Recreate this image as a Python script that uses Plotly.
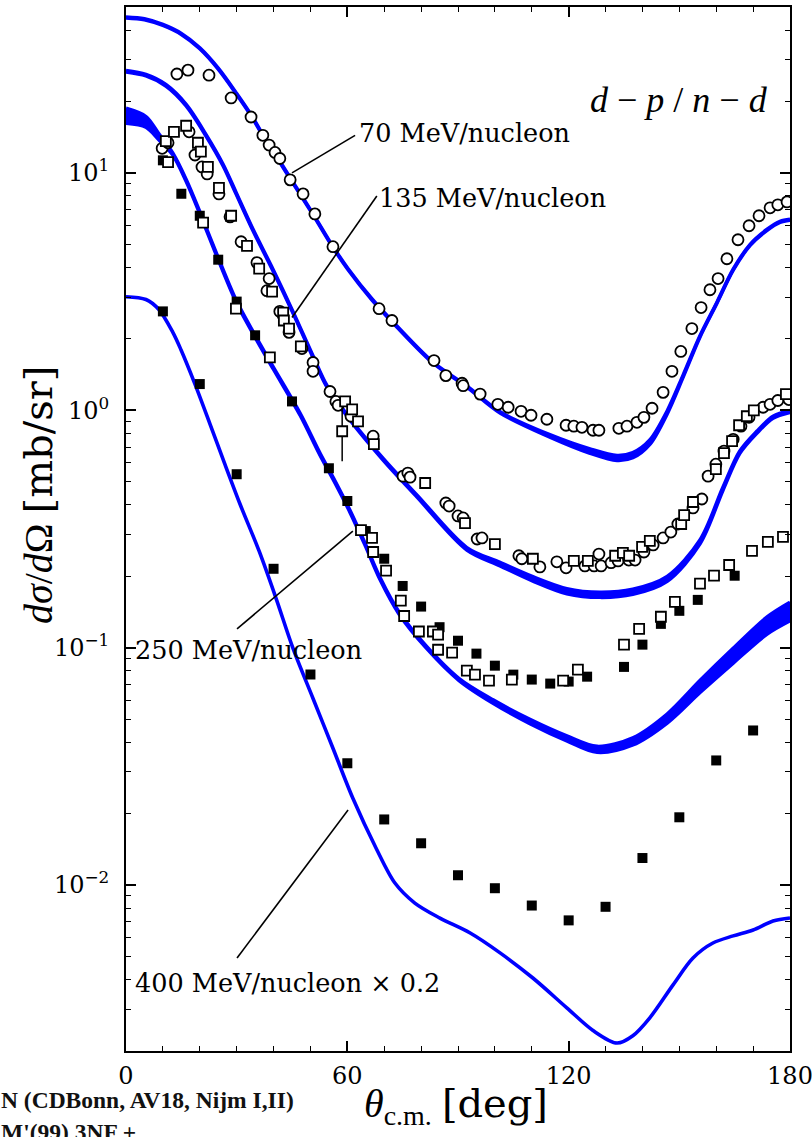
import numpy as np
import plotly.graph_objects as go

# ---------------- theory bands: angle (deg), central value (mb/sr), band width (decades)
th70 = [0, 5, 10, 15, 20, 25, 30, 34, 37, 40.4, 44.5, 48, 51.2, 56, 60.1, 66.7, 73.5, 83.2,
        92.4, 101.4, 114.9, 125.8, 133.1, 137.4, 142, 146.7, 151, 155.6, 160.2, 164.6,
        169.2, 173.8, 177.3, 180]
cs70 = [45.2, 44.4, 42.0, 38.5, 33.5, 27.5, 21.5, 17.4, 14.5, 12.0, 9.5, 7.8, 6.5, 4.9, 3.95,
        2.93, 2.25, 1.59, 1.26, 0.98, 0.78, 0.673, 0.63, 0.647, 0.734, 0.98, 1.39, 2.05, 2.84,
        3.91, 4.98, 5.76, 6.22, 6.35]
bw70 = [0.004, 0.004, 0.004, 0.004, 0.004, 0.004, 0.004, 0.004, 0.004, 0.004, 0.004, 0.004,
        0.004, 0.004, 0.004, 0.004, 0.004, 0.004, 0.004, 0.005, 0.010, 0.018, 0.021, 0.021,
        0.018, 0.012, 0.008, 0.005, 0.004, 0.004, 0.004, 0.004, 0.004, 0.004]

th135 = [0, 5.4, 10.8, 16.3, 21.7, 26.3, 29.8, 34.4, 39.8, 45.3, 50.7, 54.5, 60.7, 69.7, 78.9,
         92.4, 101.4, 110.3, 119.5, 128.5, 137.4, 146.7, 155.6, 161.8, 166.4, 171, 175.4, 180]
cs135 = [26.8, 25.8, 23.4, 19.3, 14.4, 10.8, 8.24, 5.76, 3.91, 2.58, 1.68, 1.26, 0.917, 0.622,
         0.435, 0.261, 0.225, 0.195, 0.173, 0.167, 0.172, 0.195, 0.279, 0.466, 0.666, 0.808,
         0.935, 0.99]
bw135 = [0.006, 0.006, 0.006, 0.006, 0.006, 0.006, 0.006, 0.006, 0.006, 0.006, 0.006, 0.006,
         0.006, 0.007, 0.008, 0.010, 0.014, 0.018, 0.021, 0.021, 0.021, 0.020, 0.016, 0.012,
         0.010, 0.008, 0.008, 0.008]

th250 = [0, 5.4, 8.9, 12.7, 16.3, 20, 25, 30, 35, 40, 47.2, 52.6, 56.7, 60.7, 64.8, 68.9, 74,
         81.3, 90.3, 99.5, 109.5, 119.5, 127.7, 137.4, 146.7, 155.6, 164.6, 173.8, 180]
cs250 = [17.4, 16.4, 14.2, 12.0, 9.3, 6.8, 4.35, 2.85, 2.05, 1.5, 0.962, 0.653, 0.498, 0.376,
         0.273, 0.195, 0.140, 0.101, 0.0734, 0.0593, 0.0489, 0.0415, 0.0373, 0.0403, 0.0503,
         0.0686, 0.0925, 0.124, 0.142]
bw250 = [0.063, 0.045, 0.025, 0.008, 0.008, 0.008, 0.008, 0.008, 0.008, 0.008, 0.008, 0.008,
         0.008, 0.008, 0.008, 0.008, 0.008, 0.008, 0.008, 0.014, 0.018, 0.021, 0.025, 0.030,
         0.038, 0.050, 0.062, 0.072, 0.078]

# 400 MeV/nucleon prediction, scaled by 0.2
th400 = [0, 5.4, 8.9, 12.7, 14.9, 18.7, 22.8, 26.8, 30.9, 36.1, 40.7, 45.3, 50.7, 56.1, 61.5,
         67.8, 72.9, 78.3, 85.1, 93.3, 101.4, 110.3, 119.5, 126.6, 133.1, 137.4, 142, 148.3,
         153.7, 159.1, 164.6, 170, 175.4, 180]
cs400 = [3.01, 2.93, 2.66, 2.13, 1.80, 1.29, 0.873, 0.593, 0.403, 0.255, 0.161, 0.0991, 0.0611,
         0.0377, 0.0232, 0.0143, 0.0102, 0.0084, 0.00726, 0.00628, 0.00518, 0.00406, 0.00304,
         0.00244, 0.00216, 0.00232, 0.00276, 0.00380, 0.00493, 0.00570, 0.00611, 0.00647,
         0.00706, 0.00727]

# ---------------- measured cross sections
ang70 = [13.8, 16.8, 22.5, 28.5, 33.9, 37.1, 38.8, 40.4, 41.7, 44.5, 48.0, 51.2, 56.1, 68.6,
         72.1, 83.5, 86.7, 91.1, 91.4, 96.0, 100.8, 103.6, 107.1, 109.8, 114.1, 119.3, 121.4,
         123.6, 126.6, 128.2, 133.6, 135.8, 138.5, 140.4, 142.6, 145.6, 148.0, 150.4, 153.4,
         155.9, 158.3, 160.5, 162.9, 165.9, 168.9, 171.6, 174.6, 176.7, 179.2]
val70 = [26.1, 27.1, 25.8, 20.7, 17.2, 14.4, 13.1, 12.2, 11.5, 9.35, 8.16, 6.72, 4.89, 2.68,
         2.39, 1.62, 1.40, 1.30, 1.27, 1.17, 1.06, 1.03, 0.99, 0.953, 0.917, 0.865, 0.857,
         0.848, 0.824, 0.824, 0.840, 0.857, 0.890, 0.934, 1.02, 1.19, 1.46, 1.77, 2.21, 2.71,
         3.22, 3.59, 4.35, 5.23, 5.99, 6.60, 7.13, 7.34, 7.55]

ang135c = [9.8, 11.4, 17.1, 18.7, 20.6, 22.0, 25.2, 28.2, 31.2, 35.5, 38.8, 38.2, 41.7, 44.2,
           47.7, 50.7, 50.7, 55.3, 56.9, 57.5, 61.0, 67.0, 75.1, 76.4, 77.0, 86.7, 87.6, 90.0,
           91.4, 95.2, 96.5, 106.5, 107.3, 112.2, 116.8, 119.3, 124.4, 126.9, 128.2, 128.8,
           131.5, 133.4, 136.3, 138.0, 140.4, 142.9, 145.6, 147.7, 149.6, 153.7, 156.1, 157.8,
           159.9, 162.1, 164.6, 166.7, 168.9, 172.7, 174.6, 176.7, 179.7]
val135c = [12.7, 13.4, 14.9, 11.9, 10.6, 9.9, 8.16, 6.53, 5.13, 4.19, 3.59, 3.19, 2.61, 2.13,
           1.82, 1.59, 1.46, 1.20, 1.09, 1.05, 0.944, 0.778, 0.528, 0.544, 0.523, 0.407, 0.395,
           0.359, 0.352, 0.287, 0.290, 0.244, 0.237, 0.219, 0.230, 0.217, 0.221, 0.221, 0.248,
           0.221, 0.228, 0.232, 0.234, 0.234, 0.253, 0.271, 0.290, 0.307, 0.332, 0.388, 0.423,
           0.528, 0.593, 0.673, 0.755, 0.857, 0.935, 1.03, 1.06, 1.10, 1.11]

ang135s = [10.8, 13.0, 16.3, 19.5, 20.3, 22.2, 25.2, 28.5, 32.8, 36.1, 39.6, 42.6, 42.8, 44.2,
           47.4, 59.4, 61.3, 62.9, 67.2, 81.1, 91.9, 100.0, 110.3, 121.4, 125.2, 132.6, 134.7,
           136.4, 139.9, 142.0, 150.5, 151.3, 153.7, 159.9, 162.1, 164.3, 166.2, 168.3, 170.2,
           178.9]
val135s = [13.6, 14.9, 15.8, 13.4, 12.3, 10.6, 8.65, 6.60, 4.93, 3.95, 3.16, 2.58, 2.39, 2.21,
           1.86, 1.09, 1.01, 0.899, 0.720, 0.494, 0.335, 0.273, 0.237, 0.232, 0.232, 0.244,
           0.251, 0.244, 0.266, 0.282, 0.332, 0.362, 0.411, 0.565, 0.660, 0.741, 0.865, 0.944,
           1.00, 1.17]

# single point with a large error bar
ang_eb = [58.6]
val_eb = [0.816]
hi_eb = [1.11]
lo_eb = [0.61]

ang250s = [11.4, 20.9, 29.8, 39.0, 63.7, 66.7, 67.0, 70.5, 74.5, 75.4, 79.4, 83.2, 84.6, 84.6,
           88.4, 92.4, 94.6, 98.4, 104.6, 118.5, 122.5, 135.0, 139.1, 145.0, 148.8, 155.6,
           159.4, 163.5, 169.7, 174.0, 178.1]
val250s = [11.1, 6.17, 2.68, 1.67, 0.313, 0.290, 0.253, 0.211, 0.158, 0.136, 0.117, 0.117,
           0.1135, 0.098, 0.0953, 0.080, 0.077, 0.0727, 0.0734, 0.0727, 0.0809, 0.103, 0.120,
           0.135, 0.156, 0.186, 0.201, 0.223, 0.256, 0.279, 0.293]

ang250f = [10, 15, 20, 25, 30, 35, 45, 55, 60, 65, 70, 75, 80, 85, 90, 95, 100, 105, 110, 115,
           120, 125, 135, 140, 145, 150, 155, 165]
val250f = [11.3, 8.17, 6.60, 4.31, 2.87, 2.07, 1.09, 0.570, 0.415, 0.310, 0.237, 0.182, 0.149,
           0.122, 0.107, 0.0944, 0.084, 0.077, 0.0734, 0.0706, 0.072, 0.0755, 0.083, 0.103,
           0.126, 0.143, 0.159, 0.201]

ang400 = [10, 20, 30, 40, 50, 60, 70, 80, 90, 100, 110, 120, 130, 140, 150, 160, 170]
val400 = [2.61, 1.29, 0.538, 0.215, 0.0771, 0.0326, 0.0189, 0.0150, 0.0110, 0.0097, 0.0082,
          0.0071, 0.0081, 0.0130, 0.0193, 0.0335, 0.0448]

# ---------------- styling
BLUE = "#0000ff"
FONT = "DejaVu Serif"
MATH = "Liberation Serif"
LW = 3.6

# frame of the plotting area in page pixels (used to place free text)
L, R, T, B = 126, 790, 7, 1051
W, H = 812, 1137


def fx(px):
    return (px - L) / (R - L)


def fy(py):
    return (B - py) / (B - T)


fig = go.Figure()


def add_band(th, cs, bw):
    c = np.array(cs)
    half = np.array(bw) / 2.0
    lo = c * 10 ** (-half)
    hi = c * 10 ** (half)
    line = dict(color=BLUE, width=LW, shape="spline", smoothing=0.9)
    fig.add_trace(go.Scatter(x=th, y=lo, mode="lines", line=line, hoverinfo="skip"))
    fig.add_trace(go.Scatter(x=th, y=hi, mode="lines", line=line, fill="tonexty",
                             fillcolor=BLUE, hoverinfo="skip"))


add_band(th70, cs70, bw70)
add_band(th135, cs135, bw135)
add_band(th250, cs250, bw250)
fig.add_trace(go.Scatter(x=th400, y=cs400, mode="lines",
                         line=dict(color=BLUE, width=LW, shape="spline", smoothing=0.9)))

MS = 10
# filled squares: 250 and 400 MeV/nucleon
fig.add_trace(go.Scatter(x=ang250f, y=val250f, mode="markers",
                         marker=dict(symbol="square", size=MS, color="black",
                                     line=dict(color="black", width=0))))
fig.add_trace(go.Scatter(x=ang400, y=val400, mode="markers",
                         marker=dict(symbol="square", size=MS, color="black",
                                     line=dict(color="black", width=0))))
# open circles: 70 and 135 MeV/nucleon
open_circle = dict(symbol="circle", size=MS + 1, color="white",
                   line=dict(color="black", width=1.8))
fig.add_trace(go.Scatter(x=ang70, y=val70, mode="markers", marker=open_circle))
fig.add_trace(go.Scatter(x=ang135c, y=val135c, mode="markers", marker=open_circle))
# open squares: 135 and 250 MeV/nucleon
open_square = dict(symbol="square", size=MS, color="white",
                   line=dict(color="black", width=1.8))
fig.add_trace(go.Scatter(
    x=ang_eb, y=val_eb, mode="markers", marker=open_square,
    error_y=dict(type="data", symmetric=False,
                 array=[h - v for h, v in zip(hi_eb, val_eb)],
                 arrayminus=[v - l for l, v in zip(lo_eb, val_eb)],
                 color="black", thickness=1.5, width=0)))
fig.add_trace(go.Scatter(x=ang135s, y=val135s, mode="markers", marker=open_square))
fig.add_trace(go.Scatter(x=ang250s, y=val250s, mode="markers", marker=open_square))

# pointer lines from the energy labels to the curves (data coordinates)
pointers = [
    ((45.0, 10.0), (62.1, 14.4)),
    ((45.0, 2.46), (68.0, 8.0)),
    ((30.1, 0.120), (61.5, 0.310)),
    ((30.1, 0.00493), (60.2, 0.0207)),
]
for (x0, y0), (x1, y1) in pointers:
    fig.add_shape(type="line", xref="x", yref="y", x0=x0, y0=y0, x1=x1, y1=y1,
                  line=dict(color="black", width=1.6), layer="above")

label_font = dict(family=FONT, size=25.5, color="black")
labels = [
    ("70 MeV/nucleon", 357, 133),
    ("135 MeV/nucleon", 377, 198),
    ("250 MeV/nucleon", 133, 650),
    ("400 MeV/nucleon × 0.2", 133, 983),
]
for txt, px, py in labels:
    fig.add_annotation(text=txt, x=fx(px), y=fy(py), xref="paper", yref="paper",
                       xanchor="left", yanchor="middle", showarrow=False, font=label_font)

fig.add_annotation(text="<i>d</i> − <i>p</i> / <i>n</i> − <i>d</i>", x=fx(679), y=fy(100),
                   xref="paper", yref="paper", xanchor="center", yanchor="middle",
                   showarrow=False, font=dict(family=MATH, size=36, color="black"))

# axis titles
fig.add_annotation(text="<i>dσ</i>/<i>d</i>Ω <span style='font-family:DejaVu Serif'>[mb/sr]</span>",
                   x=fx(38), y=fy(495), xref="paper", yref="paper", textangle=-90,
                   xanchor="center", yanchor="middle", showarrow=False,
                   font=dict(family=MATH, size=40, color="black"))
fig.add_annotation(text="<i>θ</i><sub>c.m.</sub> <span style='font-family:DejaVu Serif'>[deg]</span>",
                   x=fx(456), y=fy(1106), xref="paper", yref="paper", xanchor="center",
                   yanchor="middle", showarrow=False,
                   font=dict(family=MATH, size=40, color="black"))

# caption fragment at the lower left edge of the page
cap_font = dict(family="Liberation Serif", size=23.5, color="#111111")
fig.add_annotation(text="<b>N (CDBonn, AV18, Nijm I,II)</b>", x=fx(-1), y=fy(1100),
                   xref="paper", yref="paper", xanchor="left", yanchor="middle",
                   showarrow=False, font=cap_font)
fig.add_annotation(text="<b>M'(99) 3NF +</b>", x=fx(-1), y=fy(1132),
                   xref="paper", yref="paper", xanchor="left", yanchor="middle",
                   showarrow=False, font=cap_font)

tick_font = dict(family=FONT, size=24, color="black")
x_minor = [a for a in range(10, 180, 10) if a % 60 != 0]
y_minor = [m * 10.0 ** e for e in range(-3, 2) for m in range(2, 10)
           if 0.002 <= m * 10.0 ** e <= 50]

fig.update_xaxes(range=[0, 180], tickvals=[0, 60, 120, 180], ticktext=["0", "60", "120", "180"],
                 ticks="inside", ticklen=10, tickwidth=1.6, tickcolor="black",
                 showline=True, linecolor="black", linewidth=2, mirror="allticks",
                 showgrid=False, zeroline=False, tickfont=tick_font, ticklabelstandoff=2,
                 automargin=False, ticklabeloverflow="allow",
                 minor=dict(tickvals=x_minor, ticks="inside", ticklen=5, tickwidth=1.4,
                            tickcolor="black", showgrid=False))
fig.update_yaxes(type="log", range=[np.log10(0.002), np.log10(50)],
                 tickvals=[0.01, 0.1, 1, 10],
                 ticktext=["10<sup>−2</sup>", "10<sup>−1</sup>", "10<sup>0</sup>", "10<sup>1</sup>"],
                 ticks="inside", ticklen=10, tickwidth=1.6, tickcolor="black",
                 showline=True, linecolor="black", linewidth=2, mirror="allticks",
                 showgrid=False, zeroline=False, tickfont=tick_font, ticklabelstandoff=10,
                 automargin=False, ticklabeloverflow="allow",
                 minor=dict(tickvals=y_minor, ticks="inside", ticklen=5, tickwidth=1.4,
                            tickcolor="black", showgrid=False))

fig.update_layout(width=W, height=H, showlegend=False,
                  margin=dict(l=L, r=W - R, t=T, b=H - B, pad=0, autoexpand=False),
                  paper_bgcolor="white", plot_bgcolor="white")

fig.write_html("out.html")
